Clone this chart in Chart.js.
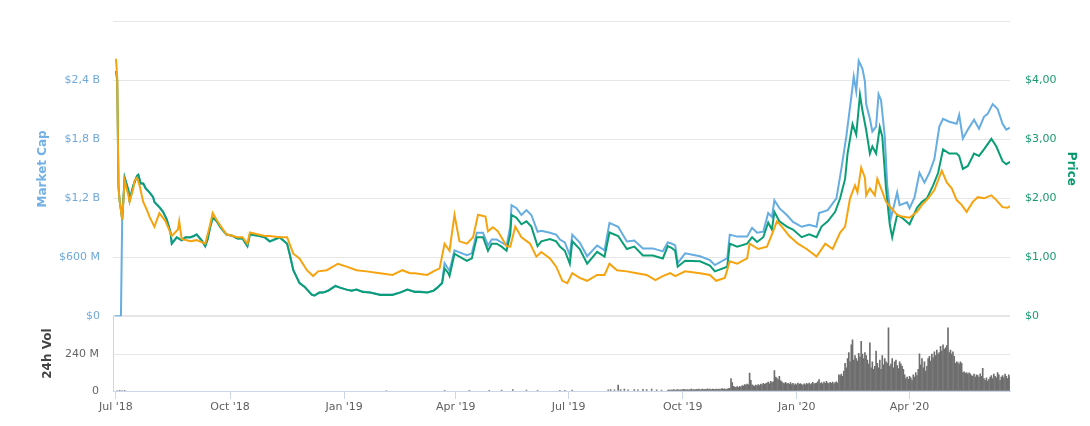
<!DOCTYPE html>
<html><head><meta charset="utf-8">
<script src="https://cdn.jsdelivr.net/npm/chart.js@4.4.1/dist/chart.umd.min.js"></script>
<style>html,body{margin:0;padding:0;background:#fff;}canvas{display:block;}</style>
</head><body>
<canvas id="c" width="1090" height="426"></canvas>
<script>
// x values are days since 1 Jul 2018
const priceDays = [0,1,2,3,4,5,7,10,11,14,17,18,20,22,24,27,30,31,35,38,41,44,45,49,53,56,60,63,65,69,72,74,76,78,81,85,89,94,98,102,106,108,114,120,124,132,138,140,143,146,148,152,155,158,160,164,167,171,177,181,186,190,194,199,205,213,218,223,229,235,241,245,251,256,259,263,265,268,269,273,277,283,287,291,296,300,303,307,311,315,318,319,323,327,331,335,340,343,350,355,358,362,366,368,374,380,388,394,398,405,412,418,425,433,441,445,448,451,453,459,471,479,483,493,495,501,509,513,517,522,526,529,531,535,541,546,553,559,565,569,574,580,584,588,590,594,597,600,602,605,608,610,613,616,618,621,624,626,630,634,640,646,650,654,659,663,667,672,678,680,683,687,692,696,700,706,710,715,718,721];
const priceUsd = [4.16,4.00,2.20,1.95,1.80,1.64,2.35,2.14,1.97,2.22,2.38,2.40,2.25,2.25,2.17,2.10,2.02,1.94,1.85,1.77,1.64,1.42,1.23,1.34,1.29,1.34,1.34,1.36,1.39,1.29,1.19,1.31,1.52,1.67,1.62,1.49,1.39,1.36,1.32,1.32,1.19,1.39,1.37,1.34,1.27,1.34,1.23,1.06,0.78,0.65,0.56,0.50,0.43,0.36,0.35,0.40,0.40,0.43,0.51,0.48,0.45,0.43,0.45,0.41,0.40,0.36,0.36,0.36,0.40,0.45,0.41,0.41,0.40,0.43,0.48,0.56,0.81,0.73,0.68,1.06,1.01,0.94,0.98,1.34,1.34,1.11,1.23,1.23,1.18,1.11,1.39,1.72,1.67,1.56,1.61,1.52,1.19,1.27,1.31,1.27,1.18,1.11,0.89,1.27,1.14,0.89,1.09,1.01,1.42,1.36,1.14,1.18,1.03,1.03,0.98,1.19,1.16,1.11,0.84,0.94,0.93,0.86,0.76,0.84,1.23,1.18,1.23,1.34,1.26,1.34,1.59,1.47,1.77,1.61,1.52,1.47,1.34,1.39,1.34,1.52,1.61,1.77,2.00,2.33,2.76,3.26,3.08,3.76,3.49,3.16,2.76,2.88,2.76,3.21,3.05,2.17,1.56,1.34,1.72,1.67,1.56,1.84,1.94,2.00,2.22,2.43,2.83,2.76,2.76,2.72,2.50,2.55,2.76,2.72,2.83,3.01,2.88,2.63,2.58,2.62];

const capDays = [-1,4,5,7,10,11,14,17,18,20,22,24,27,30,31,35,38,41,44,45,49,53,56,60,63,65,69,72,74,76,78,81,85,89,94,98,102,106,108,114,120,124,132,138,140,143,146,148,152,155,158,160,164,167,171,177,181,186,190,194,199,205,213,218,223,229,235,241,245,251,256,259,263,265,269,273,277,283,287,291,296,300,303,307,311,315,318,319,323,327,331,335,340,343,350,355,358,362,366,368,374,380,388,394,398,405,412,418,425,433,441,445,448,451,453,459,471,479,483,493,495,501,509,513,517,522,526,529,531,535,541,546,553,559,565,567,574,581,585,589,593,595,597,599,602,604,605,608,610,613,615,617,620,622,625,630,632,638,640,644,648,652,656,660,664,667,672,678,680,683,687,692,696,700,703,707,711,715,718,721];
const capBillions = [0,0,0.98,1.41,1.28,1.18,1.33,1.43,1.44,1.35,1.35,1.30,1.26,1.21,1.16,1.11,1.06,0.98,0.85,0.74,0.80,0.77,0.80,0.80,0.82,0.83,0.77,0.71,0.79,0.91,1.00,0.97,0.89,0.83,0.82,0.79,0.79,0.71,0.83,0.82,0.80,0.76,0.80,0.74,0.64,0.47,0.39,0.34,0.30,0.26,0.22,0.21,0.24,0.24,0.26,0.31,0.29,0.27,0.26,0.27,0.25,0.24,0.22,0.22,0.22,0.24,0.27,0.25,0.25,0.24,0.26,0.29,0.34,0.54,0.46,0.67,0.65,0.62,0.64,0.85,0.85,0.72,0.78,0.78,0.75,0.72,0.91,1.13,1.10,1.03,1.08,1.03,0.86,0.87,0.85,0.83,0.78,0.75,0.62,0.83,0.75,0.61,0.72,0.67,0.95,0.91,0.76,0.77,0.69,0.69,0.66,0.75,0.74,0.72,0.54,0.64,0.61,0.57,0.52,0.59,0.83,0.81,0.81,0.90,0.85,0.86,1.05,1.01,1.18,1.10,1.03,0.96,0.91,0.93,0.91,1.05,1.08,1.20,1.50,1.83,2.23,2.44,2.29,2.60,2.52,2.39,2.16,2.01,1.88,1.93,2.26,2.20,1.83,1.33,1.00,1.26,1.13,1.16,1.10,1.21,1.46,1.36,1.46,1.60,1.93,2.01,1.98,1.96,2.05,1.81,1.90,2.00,1.91,2.03,2.06,2.16,2.11,1.96,1.90,1.92];

const btcDays = [0,1,2,3,4,5,7,10,11,14,15,17,19,22,25,27,31,35,40,45,50,51,53,60,65,72,76,78,81,85,89,98,102,106,108,114,120,124,132,138,143,148,154,159,163,170,179,186,194,202,213,223,231,237,241,251,256,261,265,269,273,277,283,288,292,298,300,304,308,315,318,322,327,334,339,343,350,355,360,364,368,374,380,388,394,398,404,412,420,428,435,441,447,451,459,471,479,484,491,495,501,509,511,518,525,529,533,537,543,550,557,565,572,578,584,588,592,596,598,601,604,605,608,612,614,617,621,625,630,634,640,646,650,655,660,666,670,674,678,682,686,691,695,700,706,710,715,719,721];
const priceSats = [43700,40500,22000,19400,18000,16400,23000,20500,19400,21700,23000,23500,22200,19400,18000,16900,15200,17500,16100,13600,14700,16100,13100,12700,12900,12300,15600,17500,16400,15100,13900,13400,13400,12300,14200,13900,13600,13600,13400,13400,10600,9800,7800,6800,7600,7800,8900,8400,7800,7600,7300,7000,7800,7300,7300,7000,7600,8100,12300,11100,17200,12700,12300,13400,17200,16900,14400,15100,14400,11900,11800,15200,13400,12300,10100,10900,9800,8400,6000,5600,7300,6500,6000,7000,7000,8900,7800,7600,7300,7000,6100,6800,7300,6800,7600,7300,7000,6000,6500,9300,8900,9800,12300,11400,11800,13900,16100,15200,13600,12300,11400,10100,12300,11400,14200,15200,20000,22200,21000,25200,23500,20500,21700,20500,23300,21700,19400,18400,17200,16900,16700,17700,18900,20000,21400,24700,22700,21700,19700,18900,17700,19400,20200,20000,20500,19700,18500,18400,18700];

// 24h volume, millions of USD
const volSparseDays = [1,3,5,7,218,265,285,301,311,320,331,340,358,362,368,397,399,402,405,407,410,413,418,421,425,428,432,436,440];
const volSparseVals = [3,4,3,2,3,4,5,4,6,10,6,5,5,4,6,8,10,7,38,9,12,8,10,7,11,9,12,8,6];
const volStartDay = 445;
const volDaily = [
5,7,4,8,6,9,5,7,10,6,
8,6,9,11,7,8,10,6,9,12,
8,10,7,11,9,13,8,10,12,9,
11,9,14,10,12,8,13,11,9,12,
10,13,9,12,15,11,14,10,13,16,
18,80,55,30,26,24,28,22,30,25,
35,32,42,38,45,40,116,70,40,36,
30,38,34,42,36,45,40,50,44,48,
52,58,46,62,55,60,133,90,84,72,
95,68,60,52,48,56,46,50,44,54,
42,50,38,46,40,52,44,48,42,38,
46,40,50,44,52,42,48,56,45,50,
52,60,74,48,54,46,58,50,62,52,
48,56,50,58,46,54,60,52,105,100,
110,95,130,180,150,210,250,190,300,333,
200,230,210,195,245,220,322,240,210,250,
230,200,175,312,150,190,140,160,260,180,
150,200,140,230,170,210,190,180,410,160,
175,210,150,190,200,165,145,190,175,160,
140,105,80,90,75,95,85,70,105,90,
120,100,140,242,170,210,150,190,130,160,
210,225,195,240,215,255,230,265,240,250,
290,260,300,270,280,295,410,250,265,240,
255,225,180,190,185,175,190,180,120,125,
115,120,110,118,112,100,95,110,90,105,
100,88,112,95,147,80,70,85,65,75,
90,100,80,110,95,85,120,105,70,90,
100,85,110,95,80,105,90];

const xTickDays = [0,92,184,274,365,457,549,640];
const xTickLabels = ["Jul '18","Oct '18","Jan '19","Apr '19","Jul '19","Oct '19","Jan '20","Apr '20"];
const capTicks = [0,0.6,1.2,1.8,2.4,3.0];
const capTickLabels = ['$0','$600 M','$1,2 B','$1,8 B','$2,4 B',''];
const priceTicks = [0,1,2,3,4,5];
const priceTickLabels = ['$0','$1,00','$2,00','$3,00','$4,00',''];
const volTicks = [0,240];
const volTickLabels = ['0','240 M'];

const FONT = "'DejaVu Sans', Verdana, sans-serif";
const zip = (xs, ys, f) => xs.map((x, i) => ({x: x, y: f ? f(ys[i]) : ys[i]}));
const volPoints = zip(volSparseDays, volSparseVals).concat(volDaily.map((v, i) => ({x: volStartDay + i, y: v})));
const fixTicks = vals => scale => { scale.ticks = vals.map(v => ({value: v})); };

new Chart(document.getElementById('c'), {
  type: 'line',
  data: {
    datasets: [
      {label: 'Price (BTC)', data: zip(btcDays, priceSats, v => v / 10000), yAxisID: 'yPrice',
       borderColor: '#f5a30f', borderWidth: 2, pointRadius: 0, tension: 0, order: 1},
      {label: 'Price', data: zip(priceDays, priceUsd), yAxisID: 'yPrice',
       borderColor: '#0b9e76', borderWidth: 2, pointRadius: 0, tension: 0, order: 2},
      {label: 'Market Cap', data: zip(capDays, capBillions), yAxisID: 'yCap',
       borderColor: '#66ade2', borderWidth: 2, pointRadius: 0, tension: 0, order: 3},
      {type: 'bar', label: '24h Vol', data: volPoints, yAxisID: 'yVol',
       backgroundColor: '#6e6e6e', barThickness: 1, order: 4}
    ]
  },
  options: {
    responsive: false, animation: false, events: [],
    layout: {padding: {top: 11, left: 0, right: 0, bottom: 0}},
    plugins: {legend: {display: false}, tooltip: {enabled: false}},
    scales: {
      x: {
        type: 'linear', min: -2.4, max: 721, offset: false,
        afterBuildTicks: fixTicks(xTickDays),
        afterFit: s => { s.height = 35; },
        ticks: {callback: (v, i) => xTickLabels[i], color: '#606060', font: {family: FONT, size: 11}, padding: 2, maxRotation: 0, autoSkip: false},
        grid: {offset: false, drawOnChartArea: false, drawTicks: true, tickLength: 8, color: '#ccd6eb'},
        border: {display: true, color: '#ccd6eb'}
      },
      yCap: {
        type: 'linear', position: 'left', stack: 'left', stackWeight: 303, weight: 2, min: 0, max: 3,
        afterBuildTicks: fixTicks(capTicks),
        afterFit: s => { s.width = 113; },
        ticks: {callback: (v, i) => capTickLabels[i], color: '#6fa8dc', font: {family: FONT, size: 11}, padding: 13},
        grid: {color: '#e6e6e6', lineWidth: c => (c.tick && c.tick.value === 0) ? 2 : 1, drawTicks: false},
        border: {display: false},
        title: {display: true, text: 'Market Cap', color: '#72b0e6', font: {family: FONT, size: 12, weight: 'bold'}, padding: {top: 36, bottom: 0}}
      },
      yVol: {
        type: 'linear', position: 'left', stack: 'left', stackWeight: 77, weight: 1, min: 0, max: 486,
        afterBuildTicks: fixTicks(volTicks),
        afterFit: s => { s.width = 113; },
        ticks: {callback: (v, i) => volTickLabels[i], color: '#666666', font: {family: FONT, size: 11}, padding: 14},
        grid: {color: c => (c.tick && c.tick.value === 0) ? 'rgba(0,0,0,0)' : '#e6e6e6', drawTicks: false},
        border: {display: true, color: '#ccd6eb'},
        title: {display: true, text: '24h Vol', color: '#444444', font: {family: FONT, size: 12, weight: 'bold'}, padding: {top: 41, bottom: 0}}
      },
      yPrice: {
        type: 'linear', position: 'right', stack: 'right', stackWeight: 303, weight: 1, min: 0, max: 5,
        afterBuildTicks: fixTicks(priceTicks),
        afterFit: s => { s.width = 80; },
        ticks: {callback: (v, i) => priceTickLabels[i], color: '#1a9a6e', font: {family: FONT, size: 11}, padding: 15},
        grid: {drawOnChartArea: false, drawTicks: false},
        border: {display: false},
        title: {display: true, text: 'Price', color: '#0a9a70', font: {family: FONT, size: 12, weight: 'bold'}, padding: {top: 12, bottom: 0}}
      },
      yVolR: {
        type: 'linear', position: 'right', stack: 'right', stackWeight: 77, weight: 2, min: 0, max: 486,
        afterFit: s => { s.width = 80; },
        ticks: {display: false},
        grid: {display: false},
        border: {display: false}
      }
    }
  }
});
</script>
</body></html>
